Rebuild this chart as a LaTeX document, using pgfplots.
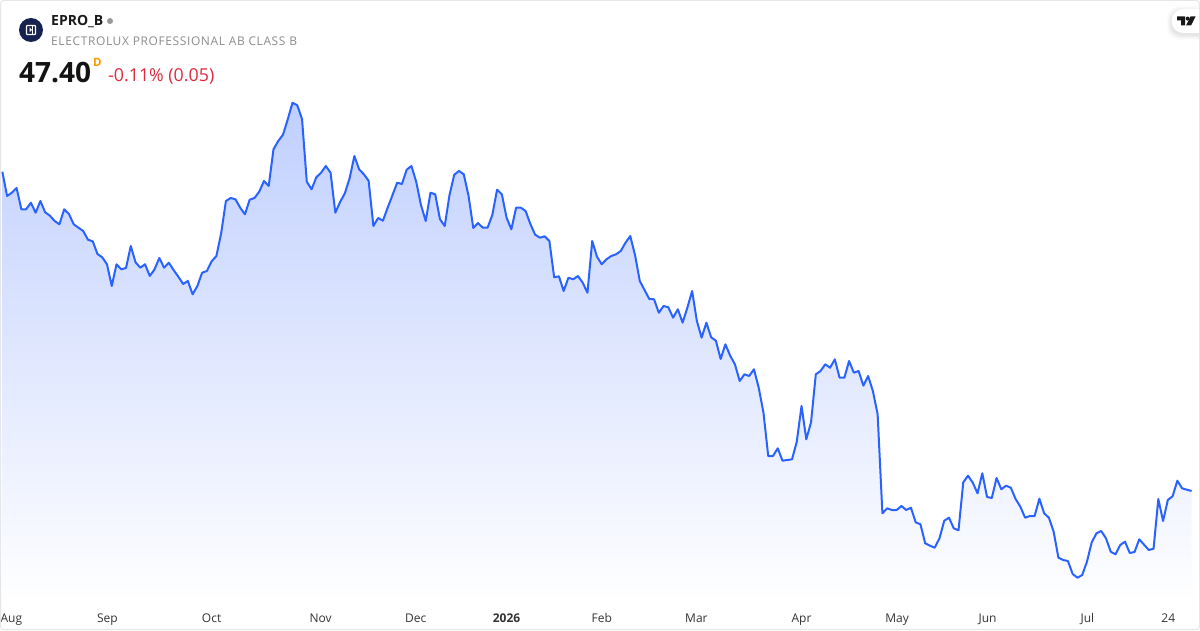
\documentclass[border=0pt]{standalone}
\usepackage{pgfplots}
\usepackage{pgfplotstable}
\usepackage{fontspec}
\pgfplotsset{compat=1.18}
\setmainfont{Open Sans}
\newfontfamily\subfont[LetterSpace=5.1]{Open Sans}
\definecolor{line}{HTML}{2962FF}
\definecolor{filltop}{RGB}{192,207,254}
\definecolor{navy}{HTML}{16224F}
\definecolor{framec}{HTML}{E4E6EA}
\definecolor{subc}{HTML}{8C8C8C}
\definecolor{redc}{HTML}{DB2B3E}
\definecolor{orangec}{HTML}{FF9800}
\definecolor{tickc}{HTML}{333333}
\pgfplotstableread[row sep=\\]{
x y\\
0 431.3\\ 1 407\\ 2 410.3\\ 3 415\\ 4 393.7\\ 5 393.7\\ 6 400.3\\ 7 390.3\\ 8 402\\ 9 390.7\\
10 387.3\\ 11 382\\ 12 378.7\\ 13 393.7\\ 14 389\\ 15 378.7\\ 16 375.3\\ 17 372\\ 18 363.3\\ 19 361.7\\
20 349\\ 21 345.7\\ 22 338.7\\ 23 317\\ 24 338.7\\ 25 333.7\\ 26 335\\ 27 357\\ 28 340.7\\ 29 335.3\\
30 338.7\\ 31 327\\ 32 333.7\\ 33 345\\ 34 335.3\\ 35 340.3\\ 36 333\\ 37 326.3\\ 38 319\\ 39 322\\
40 308.7\\ 41 317\\ 42 330.3\\ 43 332\\ 44 341.7\\ 45 347\\ 46 369.7\\ 47 402\\ 48 405\\ 49 403.7\\
50 395.3\\ 51 388.7\\ 52 403.3\\ 53 405\\ 54 411.3\\ 55 422\\ 56 417\\ 57 453.7\\ 58 462\\ 59 468.3\\
60 483.7\\ 61 500.3\\ 62 497.7\\ 63 484\\ 64 421.3\\ 65 413.7\\ 66 425.7\\ 67 430.3\\ 68 437\\ 69 430.3\\
70 390.3\\ 71 401\\ 72 409.7\\ 73 424.7\\ 74 447\\ 75 433.7\\ 76 428.7\\ 77 422.3\\ 78 377\\ 79 385\\
80 382.3\\ 81 395.3\\ 82 407.7\\ 83 420.3\\ 84 419\\ 85 433.3\\ 86 437\\ 87 421.3\\ 88 398\\ 89 382\\
90 410.3\\ 91 408.7\\ 92 383.7\\ 93 377\\ 94 408\\ 95 428.3\\ 96 432\\ 97 428.7\\ 98 407.3\\ 99 375\\
100 380\\ 101 375.3\\ 102 375.3\\ 103 388\\ 104 413.3\\ 105 408.7\\ 106 385.3\\ 107 373.7\\ 108 395.3\\ 109 395.3\\
110 392\\ 111 379\\ 112 368.3\\ 113 365.3\\ 114 366.7\\ 115 362\\ 116 325.7\\ 117 326.7\\ 118 312\\ 119 325.3\\
120 323.7\\ 121 327\\ 122 320.3\\ 123 310.3\\ 124 362\\ 125 346.3\\ 126 338.7\\ 127 343.7\\ 128 347\\ 129 348.7\\
130 352\\ 131 360.3\\ 132 367\\ 133 348\\ 134 322\\ 135 313\\ 136 304\\ 137 303.7\\ 138 290.3\\ 139 297\\
140 295.7\\ 141 285.3\\ 142 293.7\\ 143 280.3\\ 144 295.3\\ 145 312\\ 146 282\\ 147 265.3\\ 148 280.3\\ 149 265.7\\
150 262.3\\ 151 244\\ 152 258.7\\ 153 247.3\\ 154 238.7\\ 155 222\\ 156 228.7\\ 157 227\\ 158 233.7\\ 159 215.3\\
160 190.3\\ 161 147\\ 162 147\\ 163 154.7\\ 164 142.3\\ 165 143\\ 166 143.7\\ 167 161.3\\ 168 197\\ 169 163.7\\
170 180.7\\ 171 228.7\\ 172 232\\ 173 238.7\\ 174 235.3\\ 175 243.7\\ 176 225.3\\ 177 225.3\\ 178 242\\ 179 230.3\\
180 232\\ 181 217.3\\ 182 227\\ 183 212\\ 184 188.7\\ 185 89.7\\ 186 94.7\\ 187 93\\ 188 93\\ 189 97\\
190 93\\ 191 95.3\\ 192 80.7\\ 193 78.7\\ 194 59.7\\ 195 57.3\\ 196 55.3\\ 197 64.7\\ 198 82.3\\ 199 85.3\\
200 74.7\\ 201 72.7\\ 202 120.7\\ 203 127.3\\ 204 120.3\\ 205 109.7\\ 206 129.7\\ 207 106\\ 208 105\\ 209 125\\
210 113.7\\ 211 117.3\\ 212 115.3\\ 213 104\\ 214 96.3\\ 215 85.3\\ 216 87\\ 217 87\\ 218 104.3\\ 219 89.7\\
220 85.3\\ 221 71.3\\ 222 45.3\\ 223 43\\ 224 42\\ 225 29\\ 226 25.3\\ 227 28\\ 228 41.3\\ 229 60.7\\
230 69.7\\ 231 72\\ 232 64.7\\ 233 51.3\\ 234 48.7\\ 235 58\\ 236 61.3\\ 237 50\\ 238 51\\ 239 63.7\\
240 58.3\\ 241 53\\ 242 54.3\\ 243 104\\ 244 82\\ 245 103\\ 246 106.7\\ 247 122.3\\ 248 114.7\\ 249 113.3\\
250 112\\
}\pricedata
\begin{document}
\begin{tikzpicture}[x=1pt,y=1pt]
\useasboundingbox (0,-27) rectangle (1200,603);
\begin{axis}[
  anchor=south west, at={(0pt,0pt)},
  scale only axis, width=1200pt, height=603pt,
  xmin=-0.49, xmax=251.77, ymin=0, ymax=603,
  axis line style={draw=none},
  major tick length=0pt,
  ytick=\empty,
  xtick={1.9,22.1,44,66.9,86.9,106,126,145.9,168,188.1,207.1,228.1,245.1},
  xticklabels={Aug,Sep,Oct,Nov,Dec,\textbf{2026},Feb,Mar,Apr,May,Jun,Jul,24},
  xticklabel style={font=\fontsize{12}{14}\selectfont, text=tickc, anchor=base, yshift=-19.5pt},
]
\addplot[draw=none, top color=filltop, bottom color=white] table[x=x,y=y] {\pricedata} \closedcycle;
\addplot[color=line, line width=2pt, line join=round, no markers] table[x=x,y=y] {\pricedata};
\end{axis}
\begin{scope}[shift={(0pt,603pt)}, x=1pt, y=-1pt]
  \draw[framec, line width=1pt, rounded corners=3pt] (0.5,0.5) rectangle (1199.5,629.5);
  % logo
  \fill[navy] (31,30) circle (12pt);
  \draw[white, line width=1.3pt, rounded corners=0.8pt] (26.5,25.5) rectangle (35.5,34.5);
  \fill[white] (29.5,27.5) -- (32,30) -- (29.5,32.5) -- cycle;
  \fill[white] (31.5,25) rectangle (32.6,35);
  % header text
  \node[anchor=base west, inner sep=0pt, font=\fontsize{14}{16}\selectfont\bfseries, text=black!90] at (51,26) {EPRO\_B};
  \fill[black!40] (110,21) circle (3pt);
  \node[anchor=base west, inner sep=0pt, font=\fontsize{12}{14}\selectfont\subfont, text=subc] at (51,45.6) {ELECTROLUX PROFESSIONAL AB CLASS B};
  \node[anchor=base west, inner sep=0pt, font=\fontsize{28}{30}\selectfont\bfseries, text=black!92] at (19,82.6) {47.40};
  \node[anchor=base west, inner sep=0pt, font=\fontsize{11.5}{13}\selectfont\bfseries, text=orangec] at (93,66.6) {D};
  \node[anchor=base west, inner sep=0pt, font=\fontsize{17.8}{20}\selectfont, text=redc] at (108,81.8) {-0.11\% (0.05)};
  % TV badge
  \begin{scope}
    \clip (1140,0) rectangle (1199,60);
    \foreach \i/\o in {5/0.012,4/0.015,3/0.02,2/0.025,1/0.03}
      \fill[black, opacity=\o, rounded corners=12pt] (1171.5-\i,9+2-\i) rectangle (1215+\i,33+2+\i);
    \fill[white, rounded corners=12pt] (1171.5,9) rectangle (1215,33);
    \fill[black!90] (1177,16.5) -- (1185,16.5) -- (1185,25.5) -- (1181,25.5) -- (1181,20.5) -- (1177,20.5) -- cycle;
    \fill[black!90] (1187.6,18.6) circle (2pt);
    \fill[black!90] (1190.5,16.5) -- (1195.5,16.5) -- (1191,25.5) -- (1186,25.5) -- cycle;
  \end{scope}
\end{scope}
\end{tikzpicture}
\end{document}
